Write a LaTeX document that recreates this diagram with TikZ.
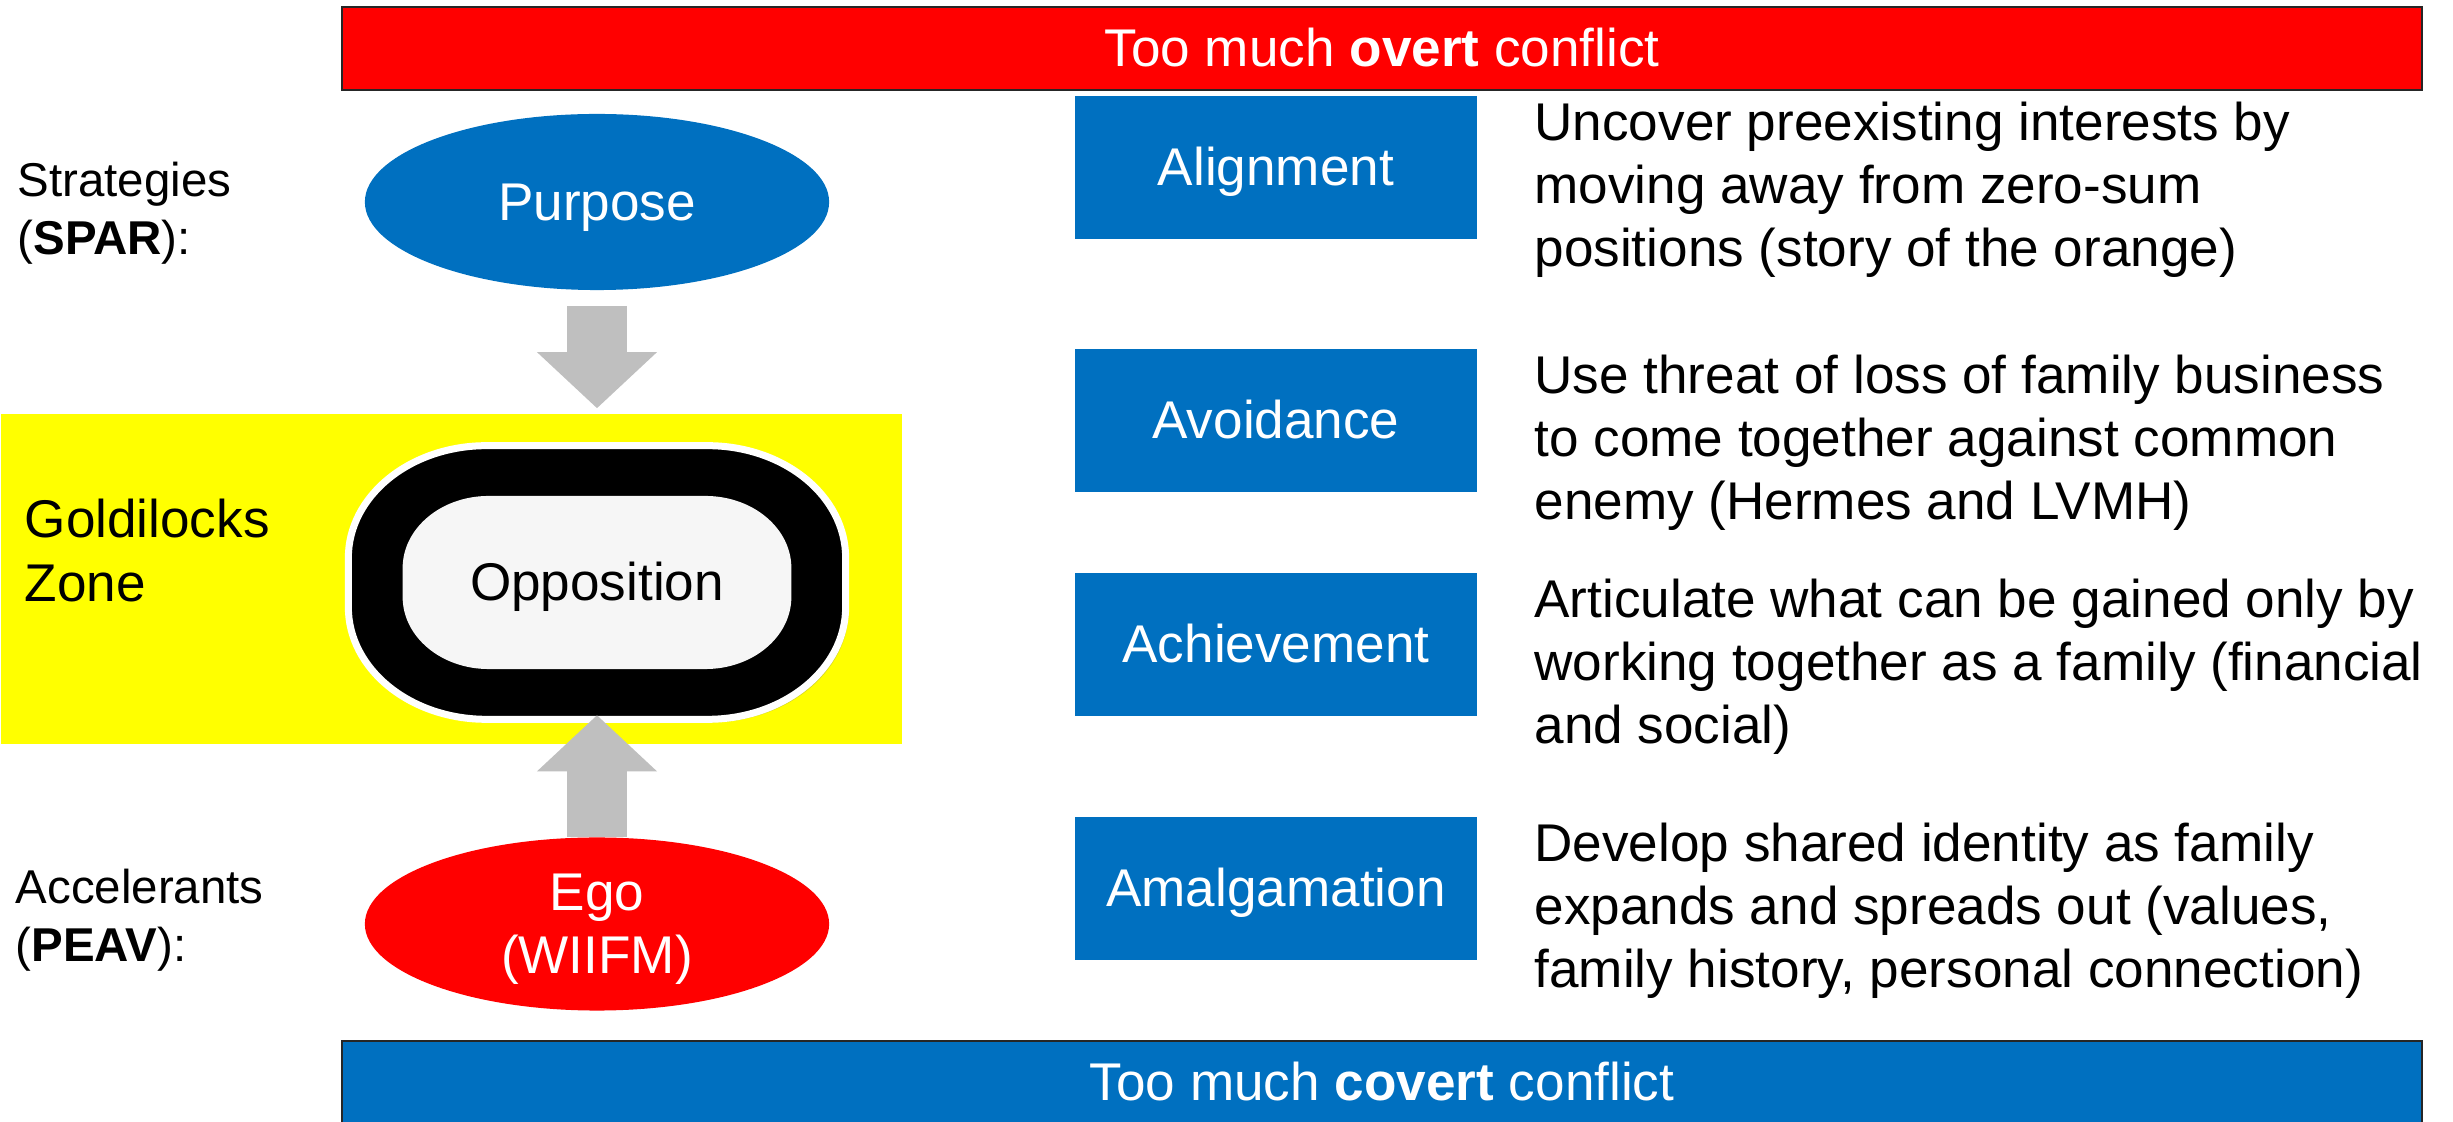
\documentclass[tikz,border=0pt]{standalone}
\usepackage{fontspec}
\setmainfont{Liberation Sans}
\usetikzlibrary{positioning}
\usetikzlibrary{arrows.meta}
\usetikzlibrary{shapes.geometric}
\usetikzlibrary{shadows}
\definecolor{spblue}{RGB}{0,112,192}
\definecolor{spred}{RGB}{255,0,0}
\definecolor{zone}{RGB}{255,255,0}
\definecolor{arrowgray}{RGB}{191,191,191}
\definecolor{oppfill}{RGB}{246,246,246}
\newcommand\mainsize{\fontsize{15.1pt}{17.9pt}\selectfont}
\newcommand\labelsize{\fontsize{13.5pt}{16.5pt}\selectfont}

\begin{document}
\begin{tikzpicture}[x=0.01cm, y=-0.01cm,
  pptext/.style={text height=13.7pt, text depth=3.2pt},
  bar/.style={pptext, draw=black!85, line width=0.6pt, minimum width=20.78cm,
    minimum height=0.83cm, text=white, font=\mainsize},
  stratbox/.style={pptext, fill=spblue, minimum width=4.02cm, minimum height=1.43cm,
    text=white, font=\mainsize},
  desc/.style={font=\mainsize, align=left, inner sep=0pt},
  side/.style={font=\labelsize, align=left, inner sep=0pt, anchor=west},
  blob/.style={ellipse, minimum width=4.64cm, inner sep=0pt, text=white,
    font=\mainsize, align=center},
  bigarrow/.style={draw=arrowgray, line width=0.6cm,
    -{Triangle[length=0.56cm, width=1.2cm, line width=0pt]}},
  plain/.style={inner sep=0pt, outer sep=0pt},
]
  \useasboundingbox (0,0) rectangle (2453,1122);

  % goldilocks zone
  \node[fill=zone, anchor=north west, inner sep=0pt, minimum width=9.01cm,
    minimum height=3.3cm] (zonebox) at (0,413) {};

  % conflict bars
  \node[bar, fill=spred] (overt) at (1382,48.5) {Too much \textbf{overt} conflict};
  \node[bar, fill=spblue] (covert) at (1382,1082.5) {Too much \textbf{covert} conflict};

  % left column
  \node[side] (strat) at (17,213) {Strategies\\(\textbf{SPAR}):};
  \node[side, font=\fontsize{15.1pt}{18.2pt}\selectfont] (gold) at (24,551) {Goldilocks\\Zone};
  \node[side] (accel) at (15,920) {Accelerants\\(\textbf{PEAV}):};

  \node[blob, pptext, fill=spblue, minimum height=1.76cm] (purpose) at (597,202) {Purpose};
  \node[blob, text depth=0pt, fill=spred, minimum height=1.73cm] (ego) at (597,924) {Ego\\(WIIFM)};

  % opposition ring
  \node[plain, minimum width=4.97cm, minimum height=2.735cm] (oppo) at (597,582.5) {};
  \draw[white, line width=0.07cm, fill=black,
    drop shadow={shadow xshift=0.03cm, shadow yshift=-0.03cm, opacity=0.35}]
    ([xshift=1.38cm]oppo.north west) -- ([xshift=-1.38cm]oppo.north east)
    arc[start angle=90, end angle=0, x radius=1.38cm, y radius=1.12cm]
    -- ([yshift=1.12cm]oppo.south east)
    arc[start angle=0, end angle=-90, x radius=1.38cm, y radius=1.12cm]
    -- ([xshift=1.38cm]oppo.south west)
    arc[start angle=270, end angle=180, x radius=1.38cm, y radius=1.12cm]
    -- ([yshift=-1.12cm]oppo.north west)
    arc[start angle=180, end angle=90, x radius=1.38cm, y radius=1.12cm] -- cycle;
  \node[plain, minimum width=3.885cm, minimum height=1.73cm] (oppin) at (oppo) {};
  \fill[oppfill]
    ([xshift=0.86cm]oppin.north west) -- ([xshift=-0.86cm]oppin.north east)
    arc[start angle=90, end angle=0, x radius=0.86cm, y radius=0.72cm]
    -- ([yshift=0.72cm]oppin.south east)
    arc[start angle=0, end angle=-90, x radius=0.86cm, y radius=0.72cm]
    -- ([xshift=0.86cm]oppin.south west)
    arc[start angle=270, end angle=180, x radius=0.86cm, y radius=0.72cm]
    -- ([yshift=-0.72cm]oppin.north west)
    arc[start angle=180, end angle=90, x radius=0.86cm, y radius=0.72cm] -- cycle;
  \node[pptext, font=\mainsize] (opptxt) at (oppin) {Opposition};

  \draw[bigarrow, shorten <=0.15cm, shorten >=0.375cm] (purpose) -- (oppo);
  \draw[bigarrow, shorten >=-0.04cm] (ego) -- (oppo);

  % strategies
  \node[stratbox] (alg) at (1276,167.5) {Alignment};
  \node[stratbox] (avo) at (1276,420.5) {Avoidance};
  \node[stratbox] (ach) at (1276,644.5) {Achievement};
  \node[stratbox] (ama) at (1276,888.5) {Amalgamation};

  \node[desc, right=0.56cm of alg, yshift=-0.22cm] (algtxt)
    {Uncover preexisting interests by\\moving away from zero-sum\\positions (story of the orange)};
  \node[desc, right=0.56cm of avo, yshift=-0.22cm] (avotxt)
    {Use threat of loss of family business\\to come together against common\\enemy (Hermes and LVMH)};
  \node[desc, right=0.56cm of ach, yshift=-0.22cm] (achtxt)
    {Articulate what can be gained only by\\working together as a family (financial\\and social)};
  \node[desc, right=0.56cm of ama, yshift=-0.22cm] (amatxt)
    {Develop shared identity as family\\expands and spreads out (values,\\family history, personal connection)};

\end{tikzpicture}
\end{document}
